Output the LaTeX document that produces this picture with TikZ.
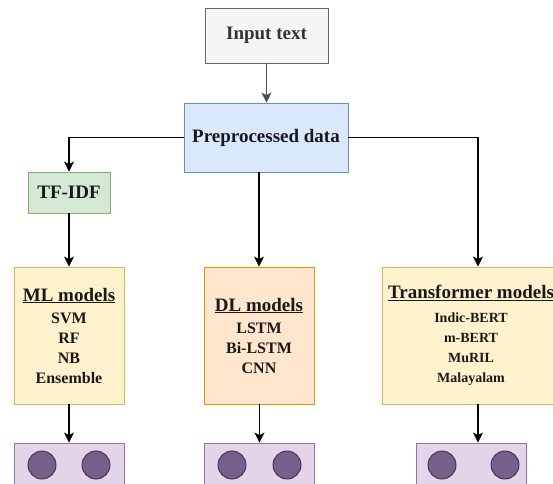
\documentclass[tikz,border=0pt]{standalone}
\usepackage{fontspec}
\setmainfont{Liberation Serif}
\usetikzlibrary{arrows.meta}

\definecolor{inFill}{HTML}{F5F5F5}
\definecolor{inLine}{HTML}{666666}
\definecolor{inText}{HTML}{333333}
\definecolor{preFill}{HTML}{DAE8FC}
\definecolor{preLine}{HTML}{6C8EBF}
\definecolor{tfFill}{HTML}{D5E8D4}
\definecolor{tfLine}{HTML}{82B366}
\definecolor{mlFill}{HTML}{FFF2CC}
\definecolor{mlLine}{HTML}{D6B656}
\definecolor{dlFill}{HTML}{FFE6CC}
\definecolor{dlLine}{HTML}{D79B00}
\definecolor{outFill}{HTML}{E1D5E7}
\definecolor{outLine}{HTML}{9673A6}
\definecolor{dotFill}{HTML}{76608A}
\definecolor{dotLine}{HTML}{432D57}

\newcommand{\headf}{\fontsize{19}{20}\selectfont\bfseries}
\newcommand{\itemf}{\fontsize{16}{20}\selectfont\bfseries}
\newcommand{\smallitemf}{\fontsize{14}{20}\selectfont\bfseries}

\begin{document}
\begin{tikzpicture}[x=1pt,y=-1pt,
    box/.style={draw, rectangle, inner sep=0pt, line width=0.9pt, align=center, text=black!90},
    arr/.style={-{Stealth[length=10pt,width=10pt,inset=2.5pt]}, line width=1.3pt},
    dot/.style={circle, draw=dotLine, fill=dotFill, minimum size=28pt, inner sep=0pt, line width=0.9pt}]
    \useasboundingbox (0,0) rectangle (553,483);
    \clip (0,0) rectangle (553,483);
    % Input and preprocessing
    \node[box, fill=inFill, draw=inLine, text=inText, minimum width=123pt, minimum height=55pt, font=\headf] (input) at (266.5,35.5) {Input text};
    \node[box, fill=preFill, draw=preLine, minimum width=164pt, minimum height=69pt, font=\headf] (pre) at (266,137.5) {Preprocessed data};
    \node[box, fill=tfFill, draw=tfLine, minimum width=82pt, minimum height=41pt, font=\headf] (tfidf) at (69,192.5) {TF-IDF};
    
    % The three model families
    \node[box, fill=mlFill, draw=mlLine, minimum width=110pt, minimum height=137pt, font=\itemf] (ml) at (69,335.5)
    {{\headf\underline{ML models}}\\[2pt] SVM\\ RF\\ NB\\ Ensemble};
    \node[box, fill=dlFill, draw=dlLine, minimum width=110pt, minimum height=137pt, font=\itemf] (dl) at (259,335.5)
    {{\headf\underline{DL models}}\\[2pt] LSTM\\ Bi-LSTM\\ CNN};
    \node[box, fill=mlFill, draw=mlLine, minimum width=178pt, minimum height=137pt, font=\smallitemf] (tr) at (471,335.5)
    {{\headf\underline{Transformer models}}\\[4pt] Indic-BERT\\ m-BERT\\ MuRIL\\ Malayalam};
    
    % Output boxes
    \node[box, fill=outFill, draw=outLine, minimum width=110pt, minimum height=60pt] (o1) at (69,473) {};
    \node[box, fill=outFill, draw=outLine, minimum width=110pt, minimum height=60pt] (o2) at (259.5,473) {};
    \node[box, fill=outFill, draw=outLine, minimum width=110pt, minimum height=60pt] (o3) at (471,473) {};
    \foreach \x in {42,96,232,287,442,505}
        \node[dot] (c\x) at (\x,465) {};
    
    % Connectors
    \draw[arr, draw=black!70] (input.south) -- (input.south |- pre.north);
    \draw[arr] (pre.west) -| (tfidf.north);
    \draw[arr] (tfidf) -- (ml);
    \draw[arr] (pre.south -| dl.north) -- (dl.north);
    \draw[arr] (pre.east) -| ([xshift=7pt]tr.north);
    \draw[arr] (ml) -- (o1);
    \draw[arr] (dl.south -| o2.north) -- (o2.north);
    \draw[arr] ([xshift=7pt]tr.south) -- ([xshift=7pt]tr.south |- o3.north);
\end{tikzpicture}
\end{document}
